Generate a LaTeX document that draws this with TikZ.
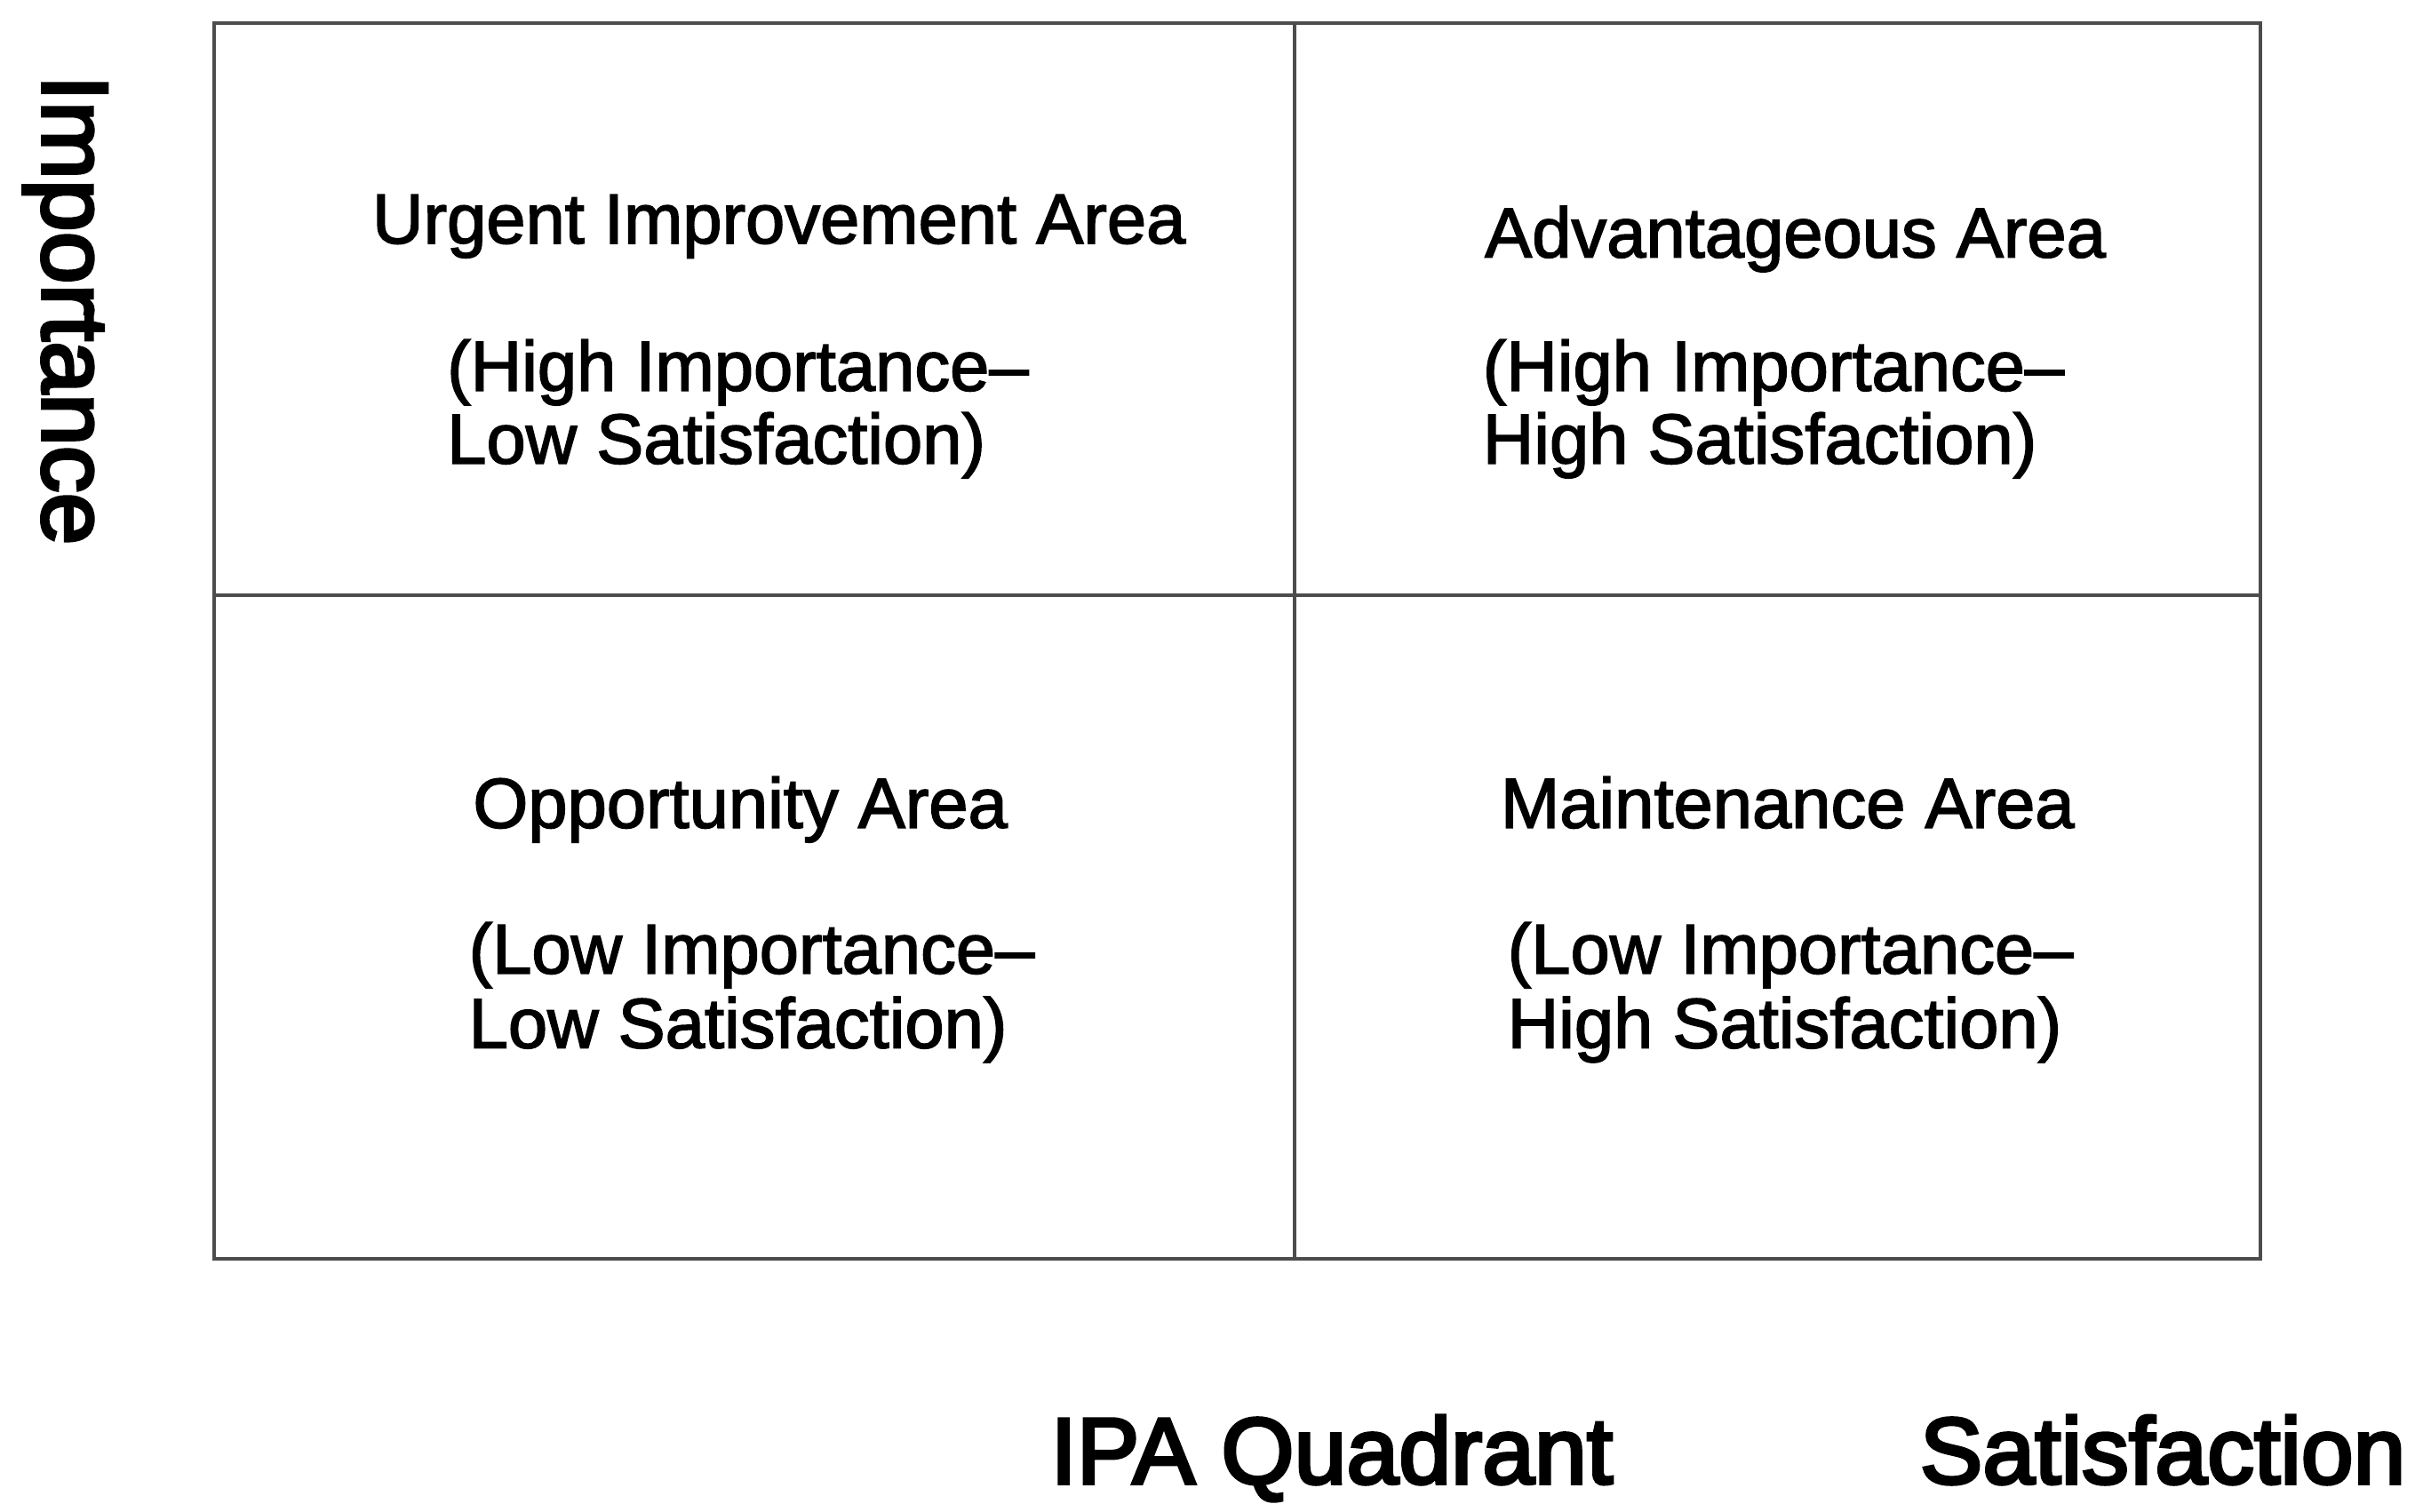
\documentclass[tikz,border=0pt]{standalone}
\usepackage{fontspec}
\setmainfont{Liberation Sans}
\newfontfamily\qfont[FakeBold=2]{Liberation Sans}
\newfontfamily\afont[FakeBold=3.5]{Liberation Sans}
\begin{document}
\begin{tikzpicture}[x=0.5pt,y=-0.5pt,
  gridline/.style={draw=black!70, line width=1pt},
  qtitle/.style={font=\qfont\fontsize{22.8}{23.5}\selectfont, anchor=base, inner sep=0pt},
  qbody/.style={font=\qfont\fontsize{22.8}{23.5}\selectfont, anchor=base west, inner sep=0pt},
  axislabel/.style={font=\afont\fontsize{30.3}{32}\selectfont, inner sep=0pt}]
\useasboundingbox (0,0) rectangle (1568,975);
% frame and dividers
\coordinate (tl) at (138,15);
\coordinate (br) at (1458,812);
\coordinate (mt) at (835,15);
\coordinate (mb) at (835,812);
\coordinate (ml) at (138,384);
\coordinate (mr) at (1458,384);
\draw[gridline] (tl) rectangle (br);
\draw[gridline] (mt) -- (mb);
\draw[gridline] (ml) -- (mr);
% upper left
\node[qtitle] (ult) at (502.5,157) {Urgent Improvement Area};
\node[qbody] (ul1) at (288,252) {(High Importance–};
\node[qbody] (ul2) at (288,299) {Low Satisfaction)};
% upper right
\node[qtitle] (urt) at (1158,166) {Advantageous Area};
\node[qbody] (ur1) at (956,252) {(High Importance–};
\node[qbody] (ur2) at (956,299) {High Satisfaction)};
% lower left
\node[qtitle] (llt) at (477.5,534) {Opportunity Area};
\node[qbody] (ll1) at (302,628) {(Low Importance–};
\node[qbody] (ll2) at (302,676) {Low Satisfaction)};
% lower right
\node[qtitle] (lrt) at (1153,534) {Maintenance Area};
\node[qbody] (lr1) at (972,628) {(Low Importance–};
\node[qbody] (lr2) at (972,676) {High Satisfaction)};
% axis labels
\node[axislabel, rotate=-90] (imp) at (42,200) {Importance};
\node[axislabel, anchor=base] (ipa) at (859,957) {IPA Quadrant};
\node[axislabel, anchor=base] (sat) at (1395,957) {Satisfaction};
\end{tikzpicture}
\end{document}
